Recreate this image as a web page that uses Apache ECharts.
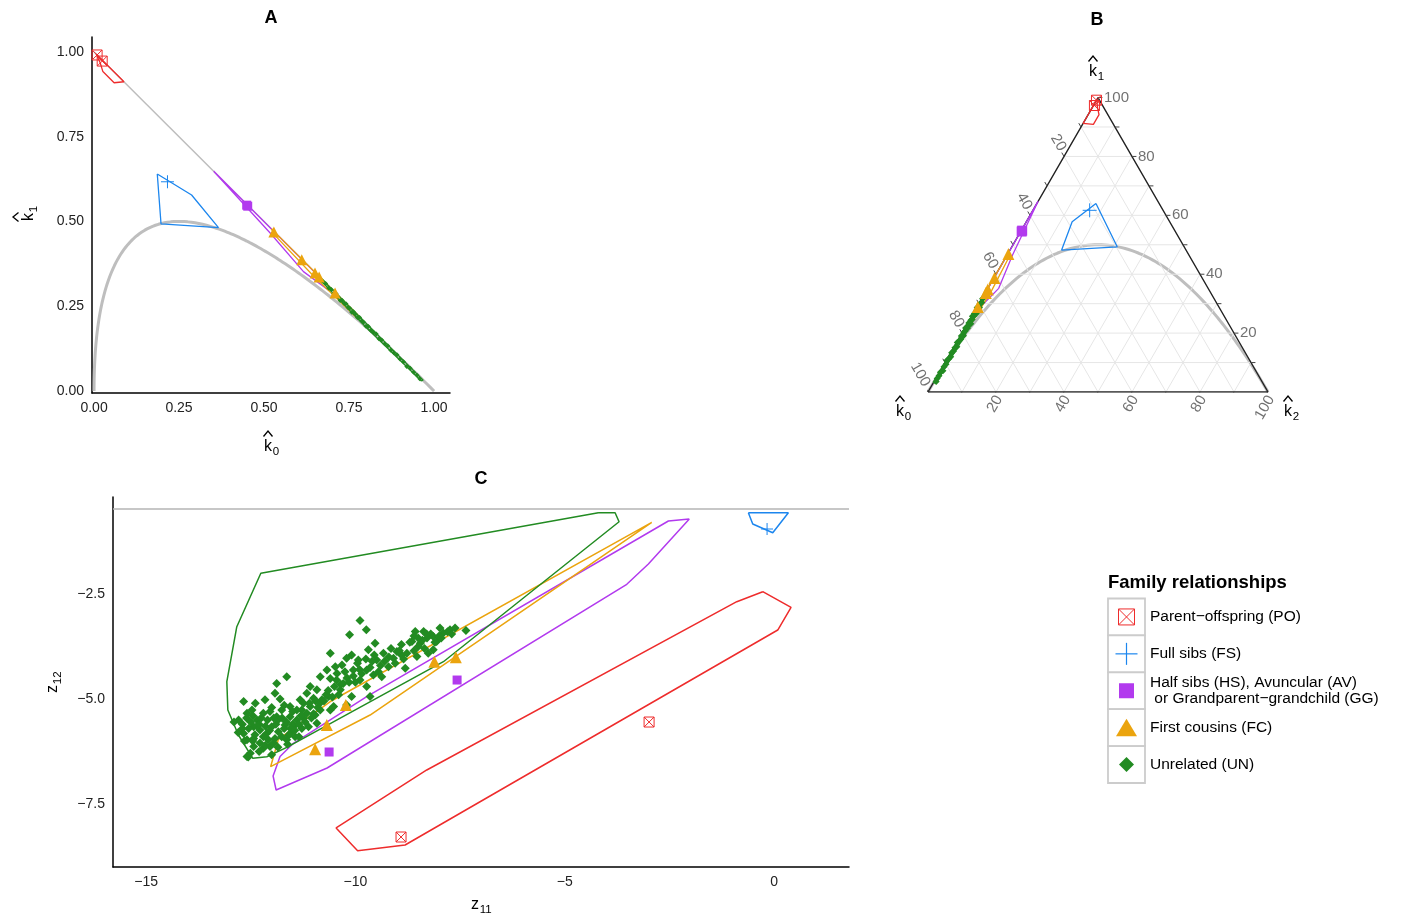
<!DOCTYPE html>
<html>
<head>
<meta charset="utf-8">
<script src="https://cdn.jsdelivr.net/npm/echarts@6.0.0/dist/echarts.min.js"></script>
<style>
html,body{margin:0;padding:0;background:#fff;}
#chart{width:1403px;height:922px;}
</style>
</head>
<body>
<div id="chart"></div>
<script>
// ================= DATA =================
// Panels A & B : estimated IBD coefficients (k0, k1) per relationship group
const PO_k0 = [0.009, 0.024];
const PO_k1 = [0.991, 0.973];
const FS_k0 = [0.216];
const FS_k1 = [0.617];
const HS_k0 = [0.449, 0.452];
const HS_k1 = [0.548, 0.545];
const FC_k0 = [0.529, 0.611, 0.650, 0.662, 0.709];
const FC_k1 = [0.469, 0.387, 0.348, 0.336, 0.289];
const UN_k0 = [0.672,0.681,0.690,0.698,0.705,0.712,0.718,0.724,0.730,0.736,0.741,0.747,0.752,0.758,0.763,0.769,0.775,0.781,0.787,0.793,0.800,0.807,0.814,0.822,0.830,0.838,0.846,0.855,0.864,0.873,0.882,0.891,0.900,0.910,0.920,0.930,0.940,0.950,0.958];
const UN_k1 = [0.324,0.317,0.304,0.299,0.287,0.287,0.277,0.267,0.267,0.258,0.257,0.246,0.244,0.232,0.234,0.226,0.217,0.217,0.207,0.203,0.191,0.190,0.179,0.173,0.168,0.154,0.150,0.139,0.133,0.120,0.113,0.107,0.094,0.086,0.072,0.067,0.055,0.046,0.036];

// hull outlines in (k0, k1)
const PO_hull_k0 = [0.006, 0.018, 0.026, 0.059, 0.088];
const PO_hull_k1 = [0.994, 0.968, 0.942, 0.909, 0.912];
const FS_hull_k0 = [0.186, 0.287, 0.366, 0.197];
const FS_hull_k1 = [0.640, 0.578, 0.482, 0.493];
const HS_hull_k0 = [0.352, 0.518, 0.616, 0.689, 0.700];
const HS_hull_k1 = [0.648, 0.466, 0.352, 0.298, 0.299];
const FC_hull_k0 = [0.522, 0.782, 0.775, 0.640, 0.530];
const FC_hull_k1 = [0.478, 0.218, 0.214, 0.345, 0.461];
const UN_hull_k0 = [0.655, 0.968, 0.962, 0.800, 0.660];
const UN_hull_k1 = [0.345, 0.032, 0.030, 0.188, 0.333];

// Panel C : (z11, z12)
const PO_z = [[-2.985, -5.548], [-8.91, -8.286]];
const FS_z = [[-0.167, -0.952]];
const HS_z = [[-7.571, -4.548], [-10.628, -6.262]];
const FC_z = [[-8.113, -4.112], [-7.602, -4.007], [-10.229, -5.143], [-10.683, -5.619], [-10.962, -6.198]];
const UN_z = [
 [-9.89,-3.13],[-9.74,-3.35],[-10.14,-3.47],[-10.60,-3.91],[-9.53,-3.67],[-9.69,-3.83],[-8.57,-3.39],[-8.37,-3.39],
 [-8.14,-3.51],[-7.98,-3.31],[-7.74,-3.35],[-7.62,-3.31],[-7.36,-3.37],[-8.65,-3.63],[-8.45,-3.67],[-8.29,-3.55],
 [-8.06,-3.63],[-7.90,-3.43],[-8.77,-3.91],[-8.53,-3.99],[-8.26,-3.91],[-8.14,-3.83],[-9.01,-3.87],[-8.81,-4.27],
 [-9.33,-3.91],[-9.49,-4.07],[-9.21,-4.23],[-9.09,-4.03],[-9.37,-4.47],[-9.57,-4.43],[-9.73,-4.31],[-9.93,-4.07],
 [-10.09,-3.95],[-10.21,-4.03],[-10.32,-4.19],[-10.48,-4.23],[-10.44,-4.39],[-10.05,-4.31],[-9.89,-4.55],[-9.73,-4.70],
 [-9.65,-4.94],[-10.09,-4.94],[-10.29,-4.63],[-10.36,-4.78],[-10.60,-4.51],[-10.84,-4.47],[-10.68,-4.31],[-10.92,-4.78],
 [-11.08,-4.70],[-11.16,-4.86],[-11.00,-4.98],[-10.80,-5.02],[-10.64,-4.94],[-10.52,-5.18],[-10.84,-5.26],[-11.08,-5.18],
 [-11.24,-5.10],[-11.32,-5.02],[-11.40,-5.26],[-11.56,-5.18],[-11.64,-4.47],[-11.88,-4.63],[-11.92,-4.86],[-12.16,-5.02],
 [-12.39,-5.10],[-12.67,-5.06],[-12.79,-5.50],[-12.59,-5.34],[-12.47,-5.26],[-12.35,-5.50],[-12.20,-5.34],[-12.04,-5.30],
 [-11.88,-5.42],[-11.76,-5.26],[-11.56,-5.42],[-11.40,-5.50],[-11.24,-5.46],[-11.48,-5.66],[-11.68,-5.62],[-11.84,-5.78],
 [-12.00,-5.66],[-12.12,-5.82],[-12.28,-5.74],[-12.43,-5.66],[-12.55,-5.70],[-12.67,-5.82],[-12.59,-5.97],[-12.43,-5.94],
 [-12.28,-6.05],[-12.08,-5.97],[-11.92,-5.94],[-11.76,-5.90],[-11.60,-5.86],[-11.44,-5.90],[-11.28,-5.70],[-11.12,-5.66],
 [-10.92,-5.58],[-12.43,-6.13],[-12.20,-6.17],[-12.04,-6.13],[-12.51,-6.29],[-12.59,-6.37],[-12.00,-6.33],[-11.64,-5.97],
 [-11.56,-5.82],[-11.16,-5.34],[-10.96,-5.38],[-11.28,-5.26],[-10.60,-5.26],[-10.21,-5.14],
 [-12.30,-5.60],[-12.10,-5.50],[-11.90,-5.60],[-12.20,-5.90],[-11.70,-5.70],[-12.00,-5.20],[-11.50,-5.60],[-12.40,-5.85],
 [-11.30,-5.40],[-11.10,-5.10],[-10.90,-5.20],[-10.70,-4.90],[-10.50,-4.70],[-10.20,-4.50],[-9.90,-4.30],[-9.60,-4.10],
 [-9.20,-4.00],[-8.90,-3.70],[-8.60,-3.50],[-8.40,-3.60],[-8.00,-3.50],[-7.80,-3.40],[-7.70,-3.45],[-8.20,-3.45],
 [-8.50,-3.75],[-8.90,-3.95],[-9.40,-4.20],[-10.00,-4.60],[-10.40,-4.90],[-11.00,-5.35],[-12.56,-6.38],[-12.70,-5.60],
 [-12.45,-5.40],[-11.95,-6.05],[-11.62,-6.08],[-12.30,-6.25],
 [-12.60,-5.45],[-12.50,-5.55],[-12.35,-5.65],[-12.25,-5.45],[-12.15,-5.65],[-12.05,-5.75],[-11.95,-5.45],[-11.85,-5.50],
 [-11.75,-5.45],[-11.65,-5.55],[-11.55,-5.70],[-11.45,-5.75],[-11.35,-5.60],[-11.20,-5.55],[-11.05,-5.45],[-10.95,-5.05],
 [-10.85,-5.10],[-10.75,-5.05],[-10.65,-4.80],[-10.55,-4.95],[-10.45,-4.55],[-10.35,-4.65],[-10.25,-4.35],[-10.15,-4.60],
 [-10.05,-4.45],[-9.95,-4.15],[-9.85,-4.40],[-9.75,-4.05],[-9.65,-4.25],[-9.55,-3.95],[-9.45,-4.35],[-9.30,-4.10],
 [-9.15,-3.80],[-9.05,-4.15],[-8.95,-3.85],[-8.85,-4.05],[-8.70,-3.65],[-8.60,-3.85],[-8.50,-3.55],[-8.35,-3.80],
 [-8.30,-3.45],[-8.10,-3.65],[-7.95,-3.55],[-12.70,-5.70],[-12.80,-5.80],[-12.45,-6.00],[-12.15,-6.10],[-11.85,-6.15],
 [-12.65,-6.00],[-11.35,-5.90],[-12.90,-5.55],[-11.80,-5.00],[-11.50,-5.30],[-11.70,-5.15]
];
const PO_hull_z = [[-0.27,-2.445],[0.406,-2.817],[0.088,-3.357],[-8.813,-8.476],[-9.947,-8.612],[-10.461,-8.071],[-8.295,-6.69],[-0.891,-2.683]];
const FS_hull_z = [[-0.614,-0.564],[0.342,-0.564],[-0.031,-1.04],[-0.509,-0.833]];
const HS_hull_z = [[-2.024,-0.714],[-2.524,-0.762],[-9.73,-4.945],[-11.50,-6.07],[-11.80,-6.37],[-11.966,-6.833],[-11.894,-7.167],[-10.676,-6.643],[-3.518,-2.269],[-3.002,-1.786]];
const FC_hull_z = [[-2.921,-0.793],[-10.60,-5.06],[-11.32,-5.58],[-11.839,-5.96],[-12.025,-6.612],[-9.649,-5.381]];
const UN_hull_z = [[-4.196,-0.564],[-3.797,-0.564],[-3.702,-0.779],[-7.898,-4.112],[-11.638,-6.15],[-12.116,-6.374],[-12.451,-6.412],[-12.794,-5.857],[-13.047,-5.262],[-13.071,-4.588],[-12.833,-3.279],[-12.259,-2.007]];
const C_REF_LINE = -0.476;

// ticks / labels
const A_TICKS = [0, 0.25, 0.5, 0.75, 1];
const C_X_TICKS = [-15, -10, -5, 0];
const C_Y_TICKS = [-2.5, -5, -7.5];
const TERN_LABELS = [20, 40, 60, 80, 100];
const TERN_TICKS = [10, 20, 30, 40, 50, 60, 70, 80, 90, 100];
const TERN_GRID = [10, 20, 30, 40, 50, 60, 70, 80, 90];
const LEGEND_LABELS = ['Parent\u2212offspring (PO)', 'Full sibs (FS)', 'Half sibs (HS), Avuncular (AV)\n or Grandparent\u2212grandchild (GG)', 'First cousins (FC)', 'Unrelated (UN)'];

// ================= STYLE =================
const FONT = '"Liberation Sans", Arial, Helvetica, sans-serif';
const COL = {PO:'#EE2C2C', FS:'#1C86EE', HS:'#B23AEE', FC:'#EBA40E', UN:'#228B22'};
const SYM_PO = 'path://M0,0L10,0L10,10L0,10Z M0,0L10,10 M10,0L0,10';
const SYM_FS = 'path://M5,0L5,10 M0,5L10,5';
const S3 = Math.sqrt(3) / 2;

// ternary projection (k0,k1,k2) -> plane
function tern(k0, k1) { const k2 = 1 - k0 - k1; return [k2 + k1 / 2, k1 * S3]; }
// theoretical boundary k1^2 = 4 k0 k2
function boundary() {
  const out = [];
  for (let i = 0; i <= 200; i++) { const t = i / 200; const k0 = t * t; out.push([k0, Math.max(0, 2 * Math.sqrt(k0) - 2 * k0)]); }
  return out;
}
function zip(a, b) { return a.map((v, i) => [v, b[i]]); }
function close(p) { return p.concat([p[0]]); }

const GA = {xAxisIndex:0, yAxisIndex:0};
const GB = {xAxisIndex:1, yAxisIndex:1};
const GC = {xAxisIndex:2, yAxisIndex:2};

function lineS(g, data, color, width, z) {
  return Object.assign({type:'line', data, showSymbol:false, symbol:'none', silent:true, z: z || 2,
    lineStyle:{color, width, opacity:1}, connectNulls:false}, g);
}
function ptS(g, data, sym, size, color, hollow, z) {
  return Object.assign({type:'scatter', data, symbol:sym, symbolSize:size, silent:true, z: z || 4,
    itemStyle: hollow ? {color:'rgba(0,0,0,0)', borderColor:color, borderWidth:1, opacity:1} : {color, opacity:1}}, g);
}

const groups = [
  {k: 'PO', pk0: PO_k0, pk1: PO_k1, hk0: PO_hull_k0, hk1: PO_hull_k1, cz: PO_z, hz: PO_hull_z, sym: SYM_PO, hollow: true, sA: 10, sB: 10, sC: 10},
  {k: 'FS', pk0: FS_k0, pk1: FS_k1, hk0: FS_hull_k0, hk1: FS_hull_k1, cz: FS_z, hz: FS_hull_z, sym: SYM_FS, hollow: true, sA: 13, sB: 14, sC: 12},
  {k: 'HS', pk0: HS_k0, pk1: HS_k1, hk0: HS_hull_k0, hk1: HS_hull_k1, cz: HS_z, hz: HS_hull_z, sym: 'rect', hollow: false, sA: 9, sB: 10, sC: 9},
  {k: 'FC', pk0: FC_k0, pk1: FC_k1, hk0: FC_hull_k0, hk1: FC_hull_k1, cz: FC_z, hz: FC_hull_z, sym: 'triangle', hollow: false, sA: 11, sB: 12, sC: 12},
  {k: 'UN', pk0: UN_k0, pk1: UN_k1, hk0: UN_hull_k0, hk1: UN_hull_k1, cz: UN_z, hz: UN_hull_z, sym: 'diamond', hollow: false, sA: 5, sB: 7, sC: 9}
];

const series = [];
// ---- Panel A ----
series.push(lineS(GA, boundary(), '#bebebe', 3, 1));
series.push(lineS(GA, [[0, 1], [1, 0]], '#bdbdbd', 1.5, 1));
groups.forEach(g => series.push(lineS(GA, close(zip(g.hk0, g.hk1)), COL[g.k], 1.3, 3)));
groups.slice().reverse().forEach(g => series.push(ptS(GA, zip(g.pk0, g.pk1), g.sym, g.sA, COL[g.k], g.hollow)));

// ---- Panel B (ternary) ----
const gridLines = [];
TERN_GRID.forEach(t => {
  const v = t / 100;
  gridLines.push(tern(1 - v, v), tern(0, v), '-');
  gridLines.push(tern(v, 1 - v), tern(v, 0), '-');
  gridLines.push(tern(1 - v, 0), tern(0, 1 - v), '-');
});
series.push(lineS(GB, gridLines, '#e6e6e6', 1, 0));
series.push(lineS(GB, boundary().map(p => tern(p[0], p[1])), '#bebebe', 3, 1));
series.push(lineS(GB, [tern(1, 0), tern(0, 1), tern(0, 0)], '#222', 1.4, 2));
series.push(lineS(GB, [tern(1, 0), tern(0, 0)], '#222', 1.4, 2));
const L = 0.013;
const tickData = [];
TERN_TICKS.forEach(t => {
  const v = t / 100;
  let p = tern(0, v); tickData.push(p, [p[0] + L, p[1]], '-');
  p = tern(v, 1 - v); tickData.push(p, [p[0] - 0.5 * L, p[1] + S3 * L], '-');
  p = tern(1 - v, 0); tickData.push(p, [p[0] - 0.5 * L, p[1] - S3 * L], '-');
});
series.push(lineS(GB, tickData, '#444', 1, 2));
groups.forEach(g => series.push(lineS(GB, close(zip(g.hk0, g.hk1)).map(p => tern(p[0], p[1])), COL[g.k], 1.3, 3)));
groups.slice().reverse().forEach(g => series.push(ptS(GB, zip(g.pk0, g.pk1).map(p => tern(p[0], p[1])), g.sym, g.sB, COL[g.k], g.hollow)));
const tLab = {show:true, position:'inside', formatter:'{b}', color:'#4d4d4d', fontSize:15, fontFamily:FONT, verticalAlign:'middle'};
series.push(Object.assign({type:'scatter', symbolSize:1, itemStyle:{color:'rgba(0,0,0,0)'}, silent:true, z:5,
  data: TERN_LABELS.map(v => ({name:String(v), value: tern(0, v / 100)})),
  label: Object.assign({}, tLab, {align:'left', offset:[6, 0]})}, GB));
series.push(Object.assign({type:'scatter', symbolSize:1, itemStyle:{color:'rgba(0,0,0,0)'}, silent:true, z:5,
  data: TERN_LABELS.map(v => ({name:String(v), value: tern(v / 100, 1 - v / 100)})),
  label: Object.assign({}, tLab, {align:'right', offset:[-6.5, -2], rotate:-60})}, GB));
series.push(Object.assign({type:'scatter', symbolSize:1, itemStyle:{color:'rgba(0,0,0,0)'}, silent:true, z:5,
  data: TERN_LABELS.map(v => ({name:String(v), value: tern(1 - v / 100, 0)})),
  label: Object.assign({}, tLab, {align:'right', offset:[-2.5, 5], rotate:60})}, GB));

// ---- Panel C ----
const C_XMIN = -15.79, C_XMAX = 1.79;
series.push(lineS(GC, [[C_XMIN, C_REF_LINE], [C_XMAX, C_REF_LINE]], '#b5b5b5', 1.3, 1));
groups.forEach(g => series.push(lineS(GC, close(g.hz), COL[g.k], 1.5, 3)));
groups.slice().reverse().forEach(g => series.push(ptS(GC, g.cz, g.sym, g.sC, COL[g.k], g.hollow)));

// ================= AXES =================
const axLine = {show:true, onZero:false, lineStyle:{color:'#000', width:1.5}};
function valAxis(grid, min, max, ticks, fmt) {
  return {type:'value', gridIndex:grid, min, max, axisLine:axLine, axisTick:{show:false},
    splitLine:{show:false},
    axisLabel:{customValues:ticks, formatter:fmt, color:'#222', fontSize:14, fontFamily:FONT, margin:8, showMinLabel:true, showMaxLabel:true}};
}
const fmt2 = v => v.toFixed(2);
const fmtC = v => (v < 0 ? '\u2212' : '') + Math.abs(v).toFixed(0);
const fmtCy = v => (v < 0 ? '\u2212' : '') + Math.abs(v).toFixed(1);

const xAxis = [
  valAxis(0, -0.006, 1.047, A_TICKS, fmt2),
  {type:'value', gridIndex:1, min:0, max:1, show:false},
  valAxis(2, C_XMIN, C_XMAX, C_X_TICKS, fmtC)
];
const yAxis = [
  valAxis(0, -0.006, 1.044, A_TICKS, fmt2),
  {type:'value', gridIndex:1, min:0, max:S3, show:false},
  valAxis(2, -9.0, -0.19, C_Y_TICKS, fmtCy)
];

// ================= TEXT / LEGEND GRAPHICS =================
function txt(x, y, text, size, opts) {
  opts = opts || {};
  return {type:'text', x, y, silent:true, rotation: opts.rot || 0, style:{text, fontSize:size, fontFamily:FONT,
    fontWeight: opts.bold ? 'bold' : 'normal', fill: opts.fill || '#000',
    textAlign: opts.align || 'center', textVerticalAlign: opts.va || 'middle', align: opts.align || 'center', verticalAlign: opts.va || 'middle',
    lineHeight: opts.lh}};
}
function symLabel(x, y, letter, sub, rot, hat, size) {
  size = size || 16;
  const ch = [txt(0, 0, letter, size), txt(size * 0.3, size * 0.32, sub, size * 0.72, {align:'left'})];
  if (hat) ch.push({type:'polyline', silent:true, shape:{points:[[-4.5, -10.5], [0, -16], [4.5, -10.5]]}, style:{stroke:'#000', lineWidth:1.3, fill:null}});
  return {type:'group', x, y, rotation: rot || 0, silent:true, children: ch};
}

const graphics = [
  txt(271, 18, 'A', 18, {bold:true}),
  txt(1097, 20, 'B', 18, {bold:true}),
  txt(481, 479, 'C', 18, {bold:true}),
  symLabel(268, 447, 'k', '0', 0, true),
  symLabel(29, 217, 'k', '1', Math.PI / 2, true),
  symLabel(900, 412, 'k', '0', 0, true),
  symLabel(1093, 72, 'k', '1', 0, true),
  symLabel(1288, 412, 'k', '2', 0, true),
  symLabel(475, 905, 'z', '11', 0, false),
  symLabel(53, 689, 'z', '12', Math.PI / 2, false)
];
// legend
const LX = 1108, LY = 598.5, RH = 36.9;
graphics.push(txt(LX, 583, 'Family relationships', 18.5, {bold:true, align:'left'}));
LEGEND_LABELS.forEach((lab, i) => {
  const cy = LY + RH * i + RH / 2;
  graphics.push({type:'rect', silent:true, shape:{x:LX, y:LY + RH * i, width:37, height:RH}, style:{fill:'#fff', stroke:'#cccccc', lineWidth:1.8}});
  graphics.push(txt(LX + 42, cy, lab, 15.5, {align:'left', lh:16}));
});
const cx = LX + 18.5;
const c = i => LY + RH * i + RH / 2;
graphics.push({type:'rect', silent:true, shape:{x:cx - 8, y:c(0) - 8, width:16, height:16}, style:{fill:'none', stroke:COL.PO, lineWidth:1}});
graphics.push({type:'polyline', silent:true, shape:{points:[[cx - 8, c(0) - 8], [cx + 8, c(0) + 8]]}, style:{stroke:COL.PO, lineWidth:1}});
graphics.push({type:'polyline', silent:true, shape:{points:[[cx + 8, c(0) - 8], [cx - 8, c(0) + 8]]}, style:{stroke:COL.PO, lineWidth:1}});
graphics.push({type:'polyline', silent:true, shape:{points:[[cx, c(1) - 11], [cx, c(1) + 11]]}, style:{stroke:COL.FS, lineWidth:1.2}});
graphics.push({type:'polyline', silent:true, shape:{points:[[cx - 11, c(1)], [cx + 11, c(1)]]}, style:{stroke:COL.FS, lineWidth:1.2}});
graphics.push({type:'rect', silent:true, shape:{x:cx - 7.5, y:c(2) - 7.5, width:15, height:15}, style:{fill:COL.HS}});
graphics.push({type:'polygon', silent:true, shape:{points:[[cx, c(3) - 9], [cx + 10.5, c(3) + 8.5], [cx - 10.5, c(3) + 8.5]]}, style:{fill:COL.FC}});
graphics.push({type:'polygon', silent:true, shape:{points:[[cx, c(4) - 7.5], [cx + 7.5, c(4)], [cx, c(4) + 7.5], [cx - 7.5, c(4)]]}, style:{fill:COL.UN}});

const chart = echarts.init(document.getElementById('chart'), null, {renderer:'canvas'});
chart.setOption({
  backgroundColor:'#fff',
  animation:false,
  grid:[
    {left:92, top:37, width:358, height:356, containLabel:false, outerBoundsMode:'none'},
    {left:928, top:392 - 340 * S3, width:340, height:340 * S3, containLabel:false, outerBoundsMode:'none'},
    {left:113, top:497, width:736, height:370, containLabel:false, outerBoundsMode:'none'}
  ],
  xAxis, yAxis, series,
  graphic: graphics
});
</script>
</body>
</html>
